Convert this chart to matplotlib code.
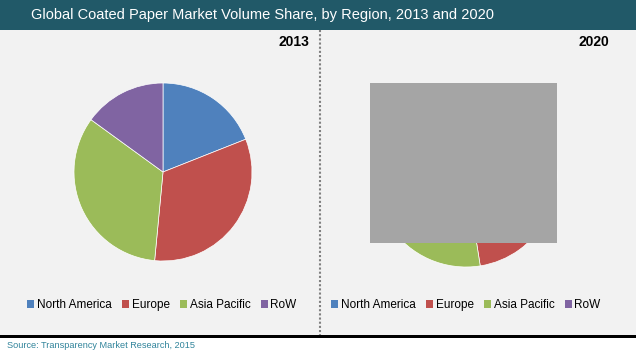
import matplotlib
matplotlib.use("Agg")
import matplotlib.pyplot as plt
from matplotlib.patches import Rectangle, Patch

plt.rcParams['font.family'] = ['Liberation Sans', 'DejaVu Sans']

# data (shares in %)
regions = ["North America", "Europe", "Asia Pacific", "RoW"]
share_2013 = [19.0, 32.5, 33.5, 15.0]
share_2020 = [17.5, 30.0, 36.5, 16.0]
colors = ["#4F81BD", "#C0504D", "#9BBB59", "#8064A2"]
title = "Global Coated Paper Market Volume Share, by Region, 2013 and 2020"
source = "Source: Transparency Market Research, 2015"

W, H = 636, 355
fig = plt.figure(figsize=(W / 100, H / 100), dpi=100, facecolor="white")

def fx(px):
    return px / W

def fy(py):
    # pixel y measured from top
    return 1 - py / H

# background blocks
fig.patches.append(Rectangle((0, fy(29.5)), 1, 29.5 / H, transform=fig.transFigure,
                             facecolor="#215968", edgecolor="none", zorder=-2))
fig.patches.append(Rectangle((0, fy(335)), 1, (335 - 29.5) / H, transform=fig.transFigure,
                             facecolor="#F2F2F2", edgecolor="none", zorder=-2))
fig.patches.append(Rectangle((0, fy(337.5)), 1, 2.5 / H, transform=fig.transFigure,
                             facecolor="black", edgecolor="none", zorder=-1))
fig.lines.append(plt.Line2D([fx(319.5), fx(319.5)], [fy(30), fy(335)], transform=fig.transFigure,
                            color="#808080", lw=1.5, linestyle=(0, (1, 1)), zorder=-1))

fig.text(fx(31), fy(14.5), title, color="white", fontsize=10.5, va="center", ha="left")
fig.text(fx(7), fy(345), source, color="#31849B", fontsize=6.6, va="center", ha="left")


def draw_pie(values, cx, cy, r, year, year_x):
    ax = fig.add_axes([fx(cx - r), fy(cy + r), 2 * r / W, 2 * r / H])
    ax.pie(values, colors=colors, startangle=90, counterclock=False, radius=1,
           wedgeprops=dict(edgecolor="white", linewidth=0.5))
    ax.set_xlim(-1.0, 1.0)
    ax.set_ylim(-1.0, 1.0)
    ax.set_facecolor("none")
    ax.axis("off")
    fig.text(fx(year_x), fy(42), year, fontsize=10, fontweight="bold", ha="right", va="center")


draw_pie(share_2013, 163, 172, 89, "2013", 309)
draw_pie(share_2020, 466, 176, 91, "2020", 609)

# gray block covering part of the 2020 chart
fig.patches.append(Rectangle((fx(370), fy(243)), (557 - 370) / W, (243 - 83) / H,
                             transform=fig.transFigure, facecolor="#A5A5A5",
                             edgecolor="none", zorder=5))

handles = [Patch(facecolor=c, edgecolor="none") for c in colors]
for cx in (162, 466):
    fig.legend(handles, regions, loc="center", bbox_to_anchor=(fx(cx), fy(305)), ncol=4,
               frameon=False, fontsize=8.5, handlelength=0.6, handleheight=0.6,
               handletextpad=0.2, columnspacing=0.9, borderpad=0)

fig.savefig("out.png", dpi=100, facecolor=fig.get_facecolor())
